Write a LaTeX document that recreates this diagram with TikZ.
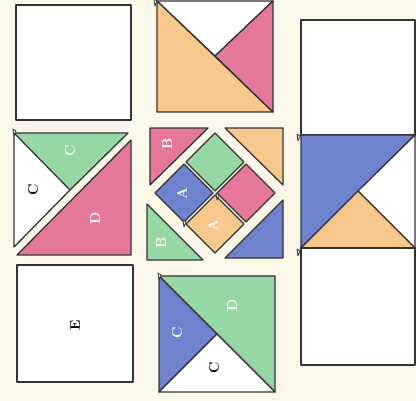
\documentclass[tikz,border=0pt]{standalone}
\usetikzlibrary{positioning}

\definecolor{qpink}{HTML}{E57898}
\definecolor{qgreen}{HTML}{96D7A5}
\definecolor{qorange}{HTML}{F6C88C}
\definecolor{qblue}{HTML}{6E82CD}
\definecolor{qpaper}{HTML}{FBF8EA}

\tikzset{
  piece/.style={draw=black!80, line width=1.1pt, line join=round},
  lbl/.style={rotate=90, font=\bfseries\large, text=white, inner sep=0pt},
  lblk/.style={lbl, text=black},
}

% small folded tab at a corner
\newcommand{\flap}[2]{%
  \draw[piece, fill=white, line width=0.7pt] (#1,#2) -- (#1-3,#2-2) -- (#1-2,#2+5) -- cycle;}

\begin{document}
\begin{tikzpicture}[x=0.03cm, y=-0.03cm]

%%% 背景
\fill[qpaper] (0,0) rectangle (416,401);
\useasboundingbox (0,0) rectangle (416,401);

%% 左の列
\draw[piece, fill=white] (16,5) rectangle (131,120);

\fill[white] (14,133) -- (70,190) -- (14,247) -- cycle;
\draw[piece, fill=qgreen] (14,133) -- (128,133) -- (70,190) -- cycle;
\draw[piece] (14,133) -- (14,247) -- (70,190);
\draw[piece, fill=qpink] (131,140) -- (131,255) -- (17,255) -- cycle;
\flap{16}{131}

\draw[piece, fill=white] (17,265) rectangle (133,382);

\node[lbl] (cGreen) at (70,151) {C};
\node[lblk] (cWhite) at (33,190) {C};
\node[lbl] (dPink) at (95,218) {D};
\node[lblk] (eWhite) at (75,325) {E};

%% 中央の列
% 上
\draw[piece, fill=white] (157,1) -- (273,1) -- (215,56) -- cycle;
\draw[piece, fill=qorange] (157,1) -- (157,112) -- (273,112) -- cycle;
\draw[piece, fill=qpink] (273,1) -- (273,112) -- (215,56) -- cycle;
\flap{157}{1}

% 角の三角形
\draw[piece, fill=qpink] (150,128) -- (208,128) -- (150,185) -- cycle;
\draw[piece, fill=qorange] (225,128) -- (283,128) -- (283,185) -- cycle;
\draw[piece, fill=qblue] (283,200) -- (283,258) -- (225,258) -- cycle;
\draw[piece, fill=qgreen] (147,204) -- (147,260) -- (203,260) -- cycle;

% ひし形
\draw[piece, fill=qgreen] (215,133) -- (244,162) -- (215,191) -- (186,162) -- cycle;
\draw[piece, fill=qpink] (246,164) -- (275,193) -- (246,222) -- (217,193) -- cycle;
\draw[piece, fill=qorange] (215,195) -- (244,224) -- (215,253) -- (186,224) -- cycle;
\draw[piece, fill=qblue] (184,164) -- (213,193) -- (184,222) -- (155,193) -- cycle;
\flap{219}{195}
\flap{186}{222}

\node[lbl] (bPink) at (167,144) {B};
\node[lbl] (aBlue) at (182,194) {A};
\node[lbl] (aOrange) at (213,226) {A};
\node[lbl] (bGreen) at (161,243) {B};

% 下
\draw[piece, fill=qgreen] (159,276) -- (275,276) -- (275,392) -- cycle;
\draw[piece, fill=qblue] (159,276) -- (217,334) -- (159,392) -- cycle;
\draw[piece, fill=white] (159,392) -- (217,334) -- (275,392) -- cycle;
\flap{161}{275}

\node[lbl] (dGreen) at (232,305) {D};
\node[lbl] (cBlue) at (177,333) {C};
\node[lblk] (cWhite2) at (214,368) {C};

%% 右の列
\draw[piece, fill=white] (301,20) rectangle (415,135);
\draw[piece, fill=qblue] (301,135) -- (415,135) -- (301,248) -- cycle;
\draw[piece, fill=white] (415,135) -- (415,248) -- (358,191) -- cycle;
\draw[piece, fill=qorange] (301,248) -- (415,248) -- (358,191) -- cycle;
\draw[piece, fill=white] (301,248) rectangle (415,365);
\flap{300}{136}
\flap{300}{251}

\end{tikzpicture}
\end{document}
